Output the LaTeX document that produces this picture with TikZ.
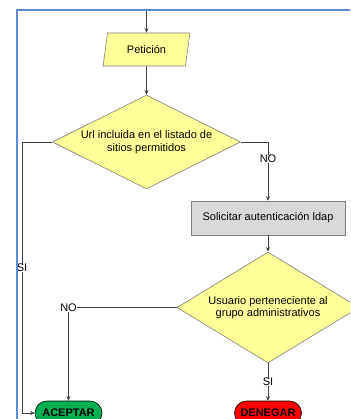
\documentclass[tikz,border=0pt]{standalone}
\usepackage{fontspec}
\setmainfont{Liberation Sans}
\usetikzlibrary{shapes.geometric,arrows.meta}
\definecolor{framblue}{HTML}{5B8BD0}
\definecolor{decfill}{HTML}{FFFF99}
\definecolor{procfill}{HTML}{D9D9D9}
\definecolor{okgreen}{HTML}{00B050}
\definecolor{nored}{HTML}{FF0000}
\definecolor{edge}{HTML}{404040}
\definecolor{outline}{HTML}{7F7F7F}
\begin{document}
\begin{tikzpicture}[x=1pt,y=-1pt,
  every node/.style={font=\fontsize{11}{12.5}\selectfont},
  conn/.style={draw=edge, line width=0.7pt, -{Stealth[length=4.5pt,width=4pt]}},
  plain/.style={draw=edge, line width=0.7pt},
  decision/.style={diamond, draw=outline, fill=decfill, line width=0.6pt,
    aspect=2, inner sep=0pt, align=center},
  inputbox/.style={trapezium, trapezium left angle=75, trapezium right angle=105,
    trapezium stretches=true,
    draw=outline, fill=decfill, line width=0.6pt, minimum height=33pt,
    minimum width=87pt, inner sep=0pt},
  procbox/.style={rectangle, draw=outline, fill=procfill, line width=0.6pt,
    minimum width=154pt, minimum height=34pt, inner sep=0pt},
  terminal/.style={rectangle, rounded corners=12pt, draw=black, line width=0.6pt,
    minimum width=67pt, minimum height=24pt, inner sep=0pt,
    font=\fontsize{11}{12.5}\selectfont\bfseries},
  lbl/.style={fill=white, inner sep=0.6pt}]
\clip (0,0) rectangle (350,419);
\useasboundingbox (0,0) rectangle (350,419);

% shapes
\coordinate (start) at (146.5,9);
\node[inputbox] (pet) at (146.5,49.5) {Petición};
\node[decision, minimum width=188pt, minimum height=94pt] (d1) at (146.5,142)
  {Url incluida en el listado de\\sitios permitidos};
\node[procbox] (auth) at (268,218) {Solicitar autenticación ldap};
\node[decision, minimum width=182pt, minimum height=111pt] (d2) at (268,307.5)
  {Usuario perteneciente al\\grupo administrativos};
\node[terminal, fill=okgreen] (acc) at (68.5,413) {ACEPTAR};
\node[terminal, fill=nored] (den) at (268,413) {DENEGAR};
\coordinate (leftrail) at (22,280);

% connectors
\draw[conn] (start) -- (pet);
\draw[conn] (pet) -- (d1);
\draw[plain] (d1.west) -| (leftrail);
\draw[conn] (leftrail) |- (acc.west);
\draw[conn] (d1.east) -| (auth.north);
\draw[conn] (auth.south) -- (d2.north);
\draw[conn] (d2.west) -| (acc.north);
\draw[conn] (d2.south) -- (den.north);

% branch labels
\node[lbl] (si1) at (22,268) {SI};
\node[lbl] (no1) at (268,159) {NO};
\node[lbl] (no2) at (68.5,307.5) {NO};
\node[lbl] (si2) at (268,382) {SI};

% page frame
\draw[framblue, line width=2pt] (16.5,440) |- (370,10.5);
\end{tikzpicture}
\end{document}
